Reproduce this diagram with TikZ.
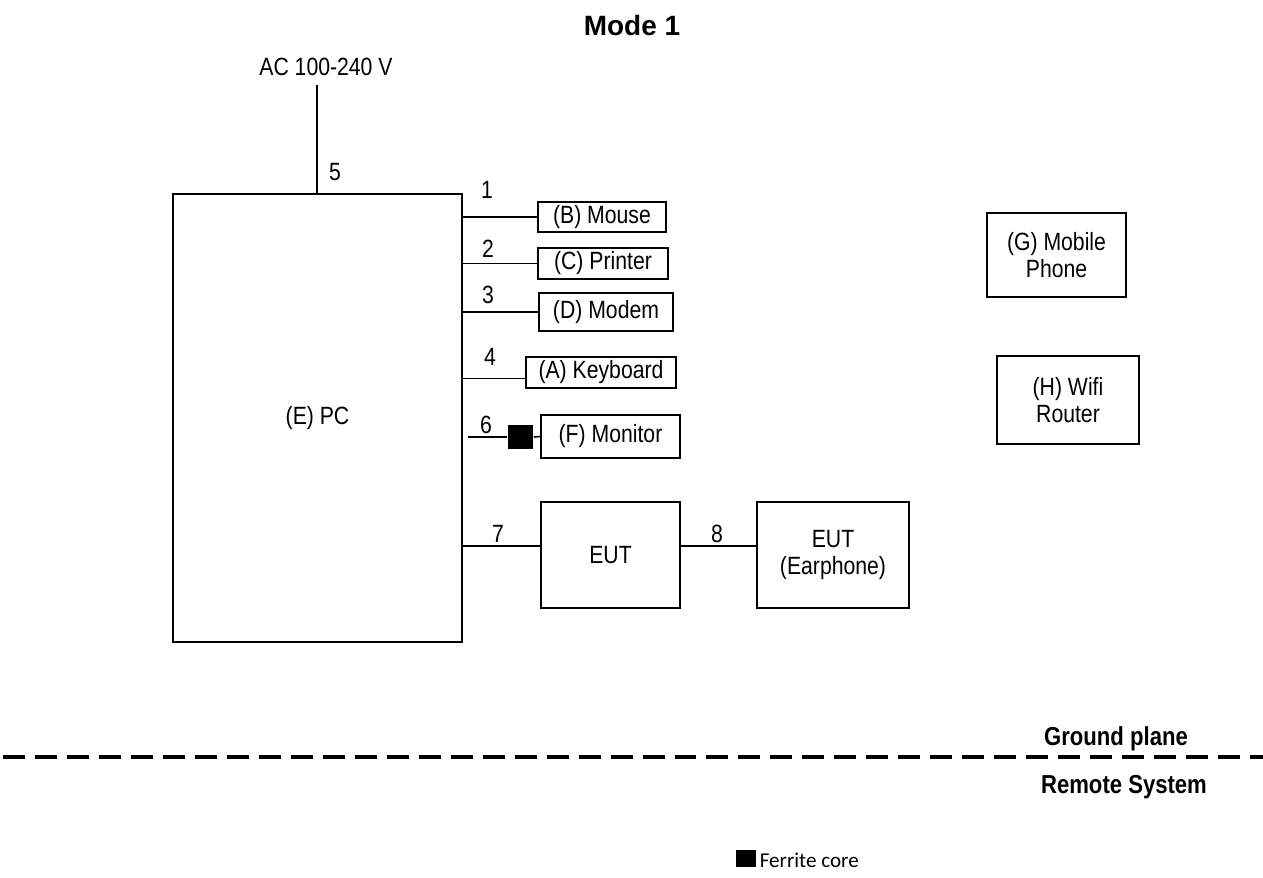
\documentclass[tikz,border=0pt]{standalone}
\usepackage{fontspec}
\setmainfont{Liberation Sans}[FakeStretch=0.85]
\newfontfamily\titlefont{Liberation Sans}
\newfontfamily\legendfont{Carlito}
\usetikzlibrary{calc}

\begin{document}
\begin{tikzpicture}[x=0.02cm,y=-0.02cm,line width=0.9pt,font=\fontsize{14.2}{15.5}\selectfont]
\tikzstyle{box} = [draw, rectangle, inner sep=0pt, align=center]
\tikzstyle{num} = [anchor=base, inner sep=0pt]
\tikzstyle{ferrite} = [fill=black, inner sep=0pt]
\useasboundingbox (0,0) rectangle (1263,877);
\node[anchor=base] (t) at (632,35) {\titlefont\bfseries\fontsize{15.9}{18}\selectfont Mode 1};
\node[anchor=base] (ac) at (326,75) {AC 100-240 V};
\node[box, minimum width=5.78cm, minimum height=8.96cm] (v1) at (317.5,418) {(E) PC};
\node[box, minimum width=2.56cm, minimum height=0.6cm] (v2) at (602,217) {(B) Mouse};
\node[box, minimum width=2.6cm, minimum height=0.62cm] (v3) at (603,263.5) {(C) Printer};
\node[box, minimum width=2.68cm, minimum height=0.76cm] (v4) at (606,312) {(D) Modem};
\node[box, minimum width=3cm, minimum height=0.62cm] (v5) at (601,372.5) {(A) Keyboard};
\node[box, minimum width=2.78cm, minimum height=0.86cm] (v6) at (610.5,436.5) {(F) Monitor};
\node[box, minimum width=2.78cm, minimum height=2.12cm] (v7) at (610.5,555) {EUT};
\node[box, minimum width=3.04cm, minimum height=2.12cm] (v8) at (833,555) {EUT\\(Earphone)};
\node[box, minimum width=2.78cm, minimum height=1.68cm] (v9) at (1056.5,255) {(G) Mobile\\Phone};
\node[box, minimum width=2.84cm, minimum height=1.76cm] (v10) at (1068,400) {(H) Wifi\\Router};
\node[ferrite, minimum width=0.5cm, minimum height=0.48cm] (f1) at (520.5,437) {};
\coordinate (c5) at (317,85);
\coordinate (c6) at (468,437);
\draw (c5) -- (c5 |- v1.north);
\draw (v2.west -| v1.east) -- (v2.west);
\draw (v3.west -| v1.east) -- (v3.west);
\draw (v4.west -| v1.east) -- (v4.west);
\draw ([yshift=-0.12cm]v5.west -| v1.east) -- ([yshift=-0.12cm]v5.west);
\draw (c6) -- (f1.west);
\draw (f1.east) -- (v6.west);
\draw ([yshift=0.18cm]v7.west -| v1.east) -- ([yshift=0.18cm]v7.west);
\draw ([yshift=0.18cm]v7.east) -- ([yshift=0.18cm]v8.west);
\node[num] (n5) at (335,180) {5};
\node[num] (n1) at (487,198) {1};
\node[num] (n2) at (488,257) {2};
\node[num] (n3) at (488,303) {3};
\node[num] (n4) at (490,365) {4};
\node[num] (n6) at (486,433) {6};
\node[num] (n7) at (498,542) {7};
\node[num] (n8) at (717,542) {8};
\draw[line width=2.3pt, dash pattern=on 12.5pt off 5.7pt] (3,757) -- (1263,757);
\node[anchor=base] (gp) at (1116,745) {\bfseries\fontsize{14.8}{16}\selectfont Ground plane};
\node[anchor=base] (rs) at (1124,793) {\bfseries\fontsize{14.8}{16}\selectfont Remote System};
\node[ferrite, minimum width=0.4cm, minimum height=0.34cm] (f2) at (746,858.5) {};
\node[anchor=base west, inner sep=0pt] (lg) at (759,867) {\legendfont\fontsize{12}{14}\selectfont Ferrite core};
\end{tikzpicture}
\end{document}
